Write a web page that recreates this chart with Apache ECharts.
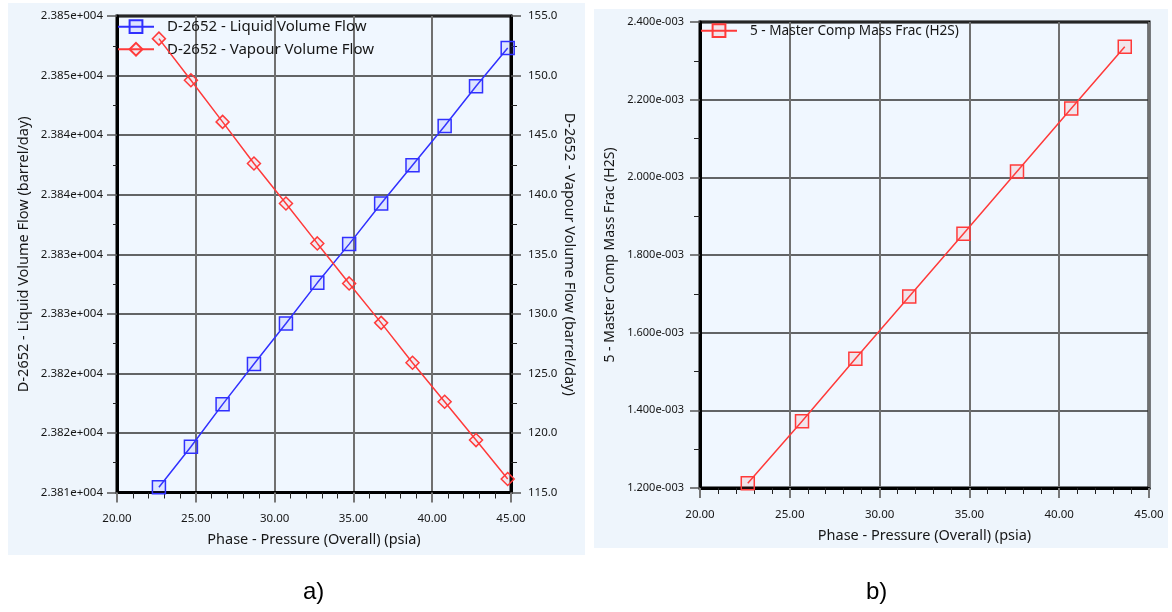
<!DOCTYPE html>
<html>
<head>
<meta charset="utf-8">
<script src="https://cdn.jsdelivr.net/npm/echarts@6/dist/echarts.min.js"></script>
<style>
  html, body { margin: 0; padding: 0; background: #ffffff; }
  #wrap { position: relative; width: 1172px; height: 612px; }
  .panel { position: absolute; background: #eef5fc; }
  #chart { position: absolute; left: 0; top: 0; width: 1172px; height: 612px; }
</style>
</head>
<body>
<div id="wrap">
  <div class="panel" style="left:8px;top:3px;width:577px;height:552px;"></div>
  <div class="panel" style="left:594px;top:9px;width:574px;height:539px;"></div>
  <div id="chart"></div>
</div>
<script>
// ---- data (a) ----
const pressureA = [22.66, 24.69, 26.70, 28.69, 30.72, 32.71, 34.73, 36.76, 38.75, 40.79, 42.78, 44.79];
const liquidFlow = [23810.44, 23813.84, 23817.40, 23820.78, 23824.19, 23827.60, 23830.85, 23834.26, 23837.47, 23840.77, 23844.10, 23847.32];
const vapourFlow = [153.10, 149.61, 146.11, 142.62, 139.26, 135.91, 132.55, 129.24, 125.89, 122.62, 119.40, 116.13];
// ---- data (b) ----
const pressureB = [22.66, 25.68, 28.65, 31.65, 34.67, 37.65, 40.67, 43.65];
const h2sFrac = [1.212e-3, 1.372e-3, 1.533e-3, 1.693e-3, 1.855e-3, 2.015e-3, 2.177e-3, 2.336e-3];
// ---- tick labels ----
const xTickLabels = ['20.00', '25.00', '30.00', '35.00', '40.00', '45.00'];
const liquidTickLabels = ['2.381e+004', '2.382e+004', '2.382e+004', '2.383e+004', '2.383e+004', '2.384e+004', '2.384e+004', '2.385e+004', '2.385e+004'];
const vapourTickLabels = ['115.0', '120.0', '125.0', '130.0', '135.0', '140.0', '145.0', '150.0', '155.0'];
const h2sTickLabels = ['1.200e-003', '1.400e-003', '1.600e-003', '1.800e-003', '2.000e-003', '2.200e-003', '2.400e-003'];
// ---- names ----
const nameLiquid = 'D-2652 - Liquid Volume Flow';
const nameVapour = 'D-2652 - Vapour Volume Flow';
const nameH2S = '5 - Master Comp Mass Frac (H2S)';
const xName = 'Phase - Pressure (Overall) (psia)';

const FONT = 'Noto Sans';
const BLUE = '#3030ff';
const RED = '#ff3a3a';
const TXT = '#161616';

function pick(arr, min, step) {
  return function (v) {
    const i = Math.round((v - min) / step);
    return arr[i] !== undefined ? arr[i] : '';
  };
}

function xAxisCfg(gridIndex, nameGap, margin) {
  return {
    type: 'value', gridIndex: gridIndex, min: 20, max: 45, interval: 5,
    name: xName, nameLocation: 'middle', nameGap: nameGap,
    nameTextStyle: { fontFamily: FONT, fontSize: 14.5, color: TXT },
    axisLine: { show: true, onZero: false, lineStyle: { color: '#000', width: 3 } },
    axisTick: { show: true, length: 10, lineStyle: { color: '#777', width: 2 } },
    minorTick: { show: true, splitNumber: 5, length: 6, lineStyle: { color: '#222', width: 1 } },
    axisLabel: { margin: margin, fontFamily: FONT, fontSize: 11.5, color: TXT, formatter: pick(xTickLabels, 20, 5) },
    splitLine: { show: true, lineStyle: { color: '#707070', width: 2 } }
  };
}

const chart = echarts.init(document.getElementById('chart'), null, { renderer: 'canvas' });
chart.setOption({
  animation: false,
  textStyle: { fontFamily: FONT },
  grid: [
    { left: 117, top: 16, width: 394, height: 476.5, show: true, backgroundColor: '#f0f7ff', borderColor: '#000', borderWidth: 3 },
    { left: 700, top: 22, width: 449, height: 466, show: true, backgroundColor: '#f0f7ff', borderColor: '#000', borderWidth: 3 }
  ],
  legend: [
    {
      data: [nameLiquid, nameVapour], orient: 'vertical', left: 117, top: 18.7,
      itemWidth: 36, itemHeight: 16, itemGap: 6.6, padding: 0,
      textStyle: { fontFamily: FONT, fontSize: 15, color: TXT, padding: [0, 0, 0, 8], lineHeight: 16 }
    },
    {
      data: [nameH2S], orient: 'vertical', left: 700, top: 22.7,
      itemWidth: 36, itemHeight: 16, padding: 0,
      textStyle: { fontFamily: FONT, fontSize: 13.6, color: TXT, padding: [0, 0, 0, 8], lineHeight: 16 }
    }
  ],
  xAxis: [xAxisCfg(0, 40, 20), xAxisCfg(1, 40, 21)],
  yAxis: [
    {
      type: 'value', gridIndex: 0, position: 'left', min: 23810, max: 23850, interval: 5,
      name: nameLiquid + ' (barrel/day)', nameLocation: 'middle', nameGap: 86,
      nameTextStyle: { fontFamily: FONT, fontSize: 14.5, color: TXT },
      axisLine: { show: true, lineStyle: { color: '#000', width: 3 } },
      axisTick: { show: true, length: 10, lineStyle: { color: '#555', width: 1.5 } },
      minorTick: { show: true, splitNumber: 2, length: 4, lineStyle: { color: '#222', width: 1 } },
      axisLabel: { margin: 14, fontFamily: FONT, fontSize: 11.5, color: TXT, formatter: pick(liquidTickLabels, 23810, 5) },
      splitLine: { show: true, lineStyle: { color: '#333', width: 1.5 } }
    },
    {
      type: 'value', gridIndex: 0, position: 'right', min: 115, max: 155, interval: 5,
      name: nameVapour + ' (barrel/day)', nameLocation: 'middle', nameGap: 50, nameRotate: -90,
      nameTextStyle: { fontFamily: FONT, fontSize: 14.5, color: TXT },
      axisLine: { show: true, lineStyle: { color: '#000', width: 3 } },
      axisTick: { show: true, length: 10, lineStyle: { color: '#555', width: 1.5 } },
      minorTick: { show: true, splitNumber: 2, length: 6, lineStyle: { color: '#222', width: 1 } },
      axisLabel: { margin: 17, fontFamily: FONT, fontSize: 11.5, color: TXT, formatter: pick(vapourTickLabels, 115, 5) },
      splitLine: { show: false }
    },
    {
      type: 'value', gridIndex: 1, position: 'left', min: 0.0012, max: 0.0024, interval: 0.0002,
      name: nameH2S, nameLocation: 'middle', nameGap: 83,
      nameTextStyle: { fontFamily: FONT, fontSize: 14, color: TXT },
      axisLine: { show: true, lineStyle: { color: '#000', width: 3 } },
      axisTick: { show: true, length: 10, lineStyle: { color: '#555', width: 1.5 } },
      minorTick: { show: true, splitNumber: 2, length: 6, lineStyle: { color: '#222', width: 1 } },
      axisLabel: { margin: 16, fontFamily: FONT, fontSize: 11, color: TXT, formatter: pick(h2sTickLabels, 0.0012, 0.0002) },
      splitLine: { show: true, lineStyle: { color: '#333', width: 1.5 } }
    }
  ],
  series: [
    {
      name: nameLiquid, type: 'line', xAxisIndex: 0, yAxisIndex: 0,
      data: pressureA.map((x, i) => [x, liquidFlow[i]]),
      symbol: 'rect', symbolSize: 13,
      lineStyle: { color: BLUE, width: 1.5 },
      itemStyle: { color: 'rgba(90,90,255,0.12)', borderColor: BLUE, borderWidth: 1.5 },
      z: 5
    },
    {
      name: nameVapour, type: 'line', xAxisIndex: 0, yAxisIndex: 1,
      data: pressureA.map((x, i) => [x, vapourFlow[i]]),
      symbol: 'diamond', symbolSize: 13,
      lineStyle: { color: RED, width: 1.5 },
      itemStyle: { color: 'rgba(255,90,90,0.08)', borderColor: RED, borderWidth: 1.5 },
      z: 5
    },
    {
      name: nameH2S, type: 'line', xAxisIndex: 1, yAxisIndex: 2,
      data: pressureB.map((x, i) => [x, h2sFrac[i]]),
      symbol: 'rect', symbolSize: 13,
      lineStyle: { color: RED, width: 1.5 },
      itemStyle: { color: 'rgba(255,90,90,0.12)', borderColor: RED, borderWidth: 1.5 },
      z: 5
    }
  ],
  graphic: [
    { type: 'text', left: 303, top: 580, style: { text: 'a)', font: '24px "Liberation Sans"', fill: '#000' } },
    { type: 'text', left: 866, top: 580, style: { text: 'b)', font: '24px "Liberation Sans"', fill: '#000' } }
  ]
});
</script>
</body>
</html>
